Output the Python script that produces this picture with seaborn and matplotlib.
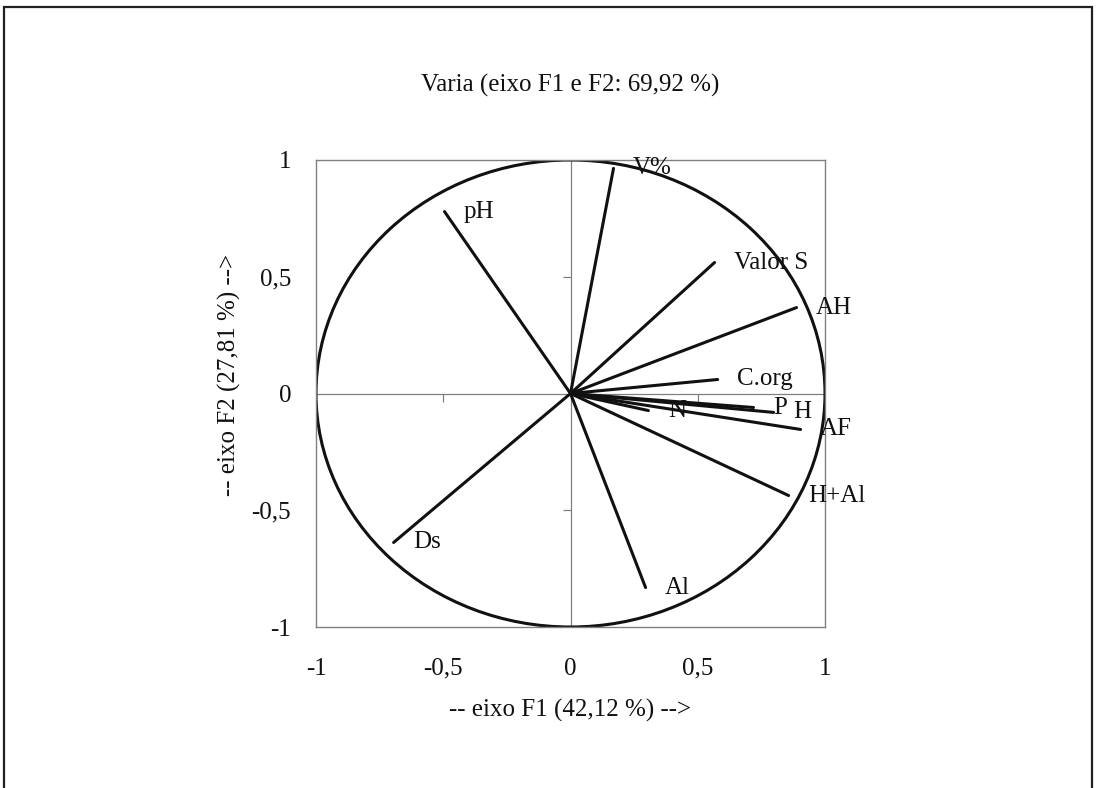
import numpy as np
import pandas as pd
import seaborn as sns
import matplotlib.pyplot as plt
from matplotlib.patches import Circle, Rectangle

# =================================================================
# 1. Data (loadings on F1 / F2)
# =================================================================
variables = ["V%", "pH", "Valor S", "AH", "C.org", "P", "H", "AF", "N", "H+Al", "Ds", "Al"]
f1 = [0.169, -0.495, 0.566, 0.888, 0.578, 0.719, 0.798, 0.904, 0.306, 0.857, -0.695, 0.295]
f2 = [0.964, 0.779, 0.561, 0.368, 0.060, -0.060, -0.081, -0.154, -0.073, -0.437, -0.638, -0.831]

title = "Varia (eixo F1 e F2: 69,92 %)"
xlabel = "-- eixo F1 (42,12 %) -->"
ylabel = "-- eixo F2 (27,81 %) -->"
ticks = [-1, -0.5, 0, 0.5, 1]
tick_labels = ["-1", "-0,5", "0", "0,5", "1"]

# segments origin -> loading
rows = []
for name, x, y in zip(variables, f1, f2):
    rows.append({"var": name, "F1": 0.0, "F2": 0.0})
    rows.append({"var": name, "F1": x, "F2": y})
seg_df = pd.DataFrame(rows)

# =================================================================
# 2. Plotting
# =================================================================
sns.set_theme(style="white")
plt.rcParams["font.family"] = ["Liberation Serif", "DejaVu Serif"]

fig = plt.figure(figsize=(10.96, 7.88), dpi=100)
ax = fig.add_axes([316 / 1096, 1 - 627 / 788, 509 / 1096, 467 / 788])

# outer frame
fig.patches.append(Rectangle((4 / 1096, -0.05), 1088 / 1096, 1.05 - 7 / 788,
                             transform=fig.transFigure, fill=False,
                             edgecolor="#222222", linewidth=1.6))

# zero axes
ax.axhline(0, color="#808080", linewidth=0.9, zorder=1)
ax.axvline(0, color="#808080", linewidth=0.9, zorder=1)
# small tick marks on the zero axes
ax.plot([0.5, -0.5], [0, 0], linestyle="none", marker=3, markersize=6,
        color="#808080", markeredgewidth=0.9, zorder=1)
ax.plot([0, 0], [0.5, -0.5], linestyle="none", marker=0, markersize=6,
        color="#808080", markeredgewidth=0.9, zorder=1)

# correlation circle
ax.add_patch(Circle((0, 0), 1, fill=False, edgecolor="#111111", linewidth=2.2, zorder=2))

sns.lineplot(data=seg_df, x="F1", y="F2", units="var", estimator=None, sort=False,
             color="#111111", linewidth=2.2, ax=ax, zorder=3)

for name, x, y in zip(variables, f1, f2):
    ax.annotate(name, (x, y), xytext=(14, 0), textcoords="offset points",
                ha="left", va="center", fontsize=18, color="#111111")

ax.set_xlim(-1, 1)
ax.set_ylim(-1, 1)
ax.set_xticks(ticks)
ax.set_xticklabels(tick_labels)
ax.set_yticks(ticks)
ax.set_yticklabels(tick_labels)
ax.tick_params(axis="both", length=0, labelsize=18, colors="#111111")
ax.tick_params(axis="x", pad=22)
ax.tick_params(axis="y", pad=18)
for sp in ax.spines.values():
    sp.set_color("#808080")
    sp.set_linewidth(1.0)

ax.set_xlabel(xlabel, fontsize=18, labelpad=14, color="#111111")
ax.set_ylabel(ylabel, fontsize=18, color="#111111")
ax.yaxis.set_label_coords(-0.148, 0.54)
fig.text(570 / 1096, 1 - 85 / 788, title, ha="center", va="center", fontsize=18, color="#111111")

plt.savefig("out.png", dpi=100)
